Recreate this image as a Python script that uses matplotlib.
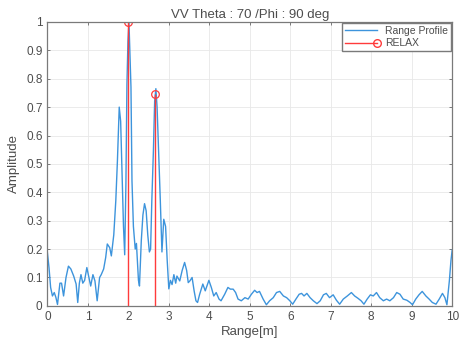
import numpy as np
import matplotlib.pyplot as plt
from matplotlib.legend_handler import HandlerLine2D
from matplotlib.lines import Line2D

plt.rcParams['font.family'] = ['Liberation Sans', 'DejaVu Sans']

# range profile
range_m = [0.0, 0.04, 0.08, 0.125, 0.17, 0.21, 0.25, 0.31, 0.35, 0.40, 0.46, 0.52,
           0.58, 0.65, 0.71, 0.75, 0.79, 0.83, 0.875, 0.92, 0.975, 1.025, 1.07, 1.125,
           1.175, 1.23, 1.29, 1.33, 1.39, 1.44, 1.48, 1.54, 1.58, 1.64, 1.69, 1.73,
           1.775, 1.81, 1.84, 1.88, 1.91, 1.94, 1.965, 1.99, 2.015, 2.04, 2.065, 2.09,
           2.125, 2.17, 2.2, 2.25, 2.275, 2.32, 2.36, 2.4, 2.44, 2.48, 2.52, 2.55,
           2.58, 2.62, 2.65, 2.68, 2.71, 2.75, 2.79, 2.83, 2.875, 2.92, 2.96, 3.0,
           3.04, 3.08, 3.125, 3.17, 3.2, 3.27, 3.33, 3.39, 3.44, 3.48, 3.52, 3.575,
           3.625, 3.67, 3.71, 3.76, 3.84, 3.9, 3.99, 4.05, 4.11, 4.17, 4.24, 4.29,
           4.38, 4.46, 4.52, 4.59, 4.65, 4.71, 4.79, 4.88, 4.96, 5.04, 5.12, 5.18,
           5.24, 5.33, 5.41, 5.49, 5.58, 5.66, 5.74, 5.83, 5.91, 5.99, 6.06, 6.14,
           6.22, 6.28, 6.34, 6.41, 6.49, 6.57, 6.66, 6.74, 6.82, 6.89, 6.97, 7.06,
           7.14, 7.22, 7.31, 7.41, 7.51, 7.59, 7.67, 7.75, 7.82, 7.9, 7.98, 8.05,
           8.13, 8.21, 8.3, 8.38, 8.46, 8.55, 8.63, 8.71, 8.79, 8.88, 8.96, 9.02,
           9.1, 9.18, 9.26, 9.35, 9.43, 9.51, 9.6, 9.68, 9.76, 9.82, 9.87, 9.93,
           9.97, 10.0]
amplitude = [0.188, 0.135, 0.065, 0.035, 0.047, 0.03, 0.005, 0.08, 0.08, 0.035, 0.10, 0.14,
             0.13, 0.105, 0.077, 0.012, 0.08, 0.11, 0.08, 0.09, 0.135, 0.10, 0.07, 0.11,
             0.088, 0.018, 0.10, 0.11, 0.13, 0.17, 0.218, 0.205, 0.176, 0.25, 0.37, 0.51,
             0.70, 0.65, 0.49, 0.28, 0.18, 0.43, 0.78, 0.93, 1.0, 0.89, 0.77, 0.44,
             0.28, 0.2, 0.22, 0.09, 0.07, 0.23, 0.32, 0.36, 0.335, 0.25, 0.19, 0.2,
             0.37, 0.55, 0.72, 0.765, 0.7, 0.535, 0.37, 0.19, 0.305, 0.28, 0.16, 0.06,
             0.09, 0.075, 0.11, 0.08, 0.105, 0.088, 0.125, 0.153, 0.125, 0.082, 0.088, 0.1,
             0.053, 0.018, 0.012, 0.04, 0.077, 0.053, 0.09, 0.065, 0.035, 0.047, 0.024, 0.018,
             0.041, 0.065, 0.059, 0.059, 0.047, 0.024, 0.018, 0.029, 0.024, 0.041, 0.055, 0.047,
             0.051, 0.024, 0.004, 0.018, 0.029, 0.047, 0.051, 0.035, 0.029, 0.018, 0.006, 0.024,
             0.041, 0.044, 0.035, 0.044, 0.029, 0.018, 0.008, 0.018, 0.039, 0.044, 0.029, 0.039,
             0.02, 0.006, 0.024, 0.035, 0.047, 0.035, 0.027, 0.018, 0.006, 0.024, 0.039, 0.035,
             0.047, 0.029, 0.018, 0.024, 0.018, 0.029, 0.047, 0.041, 0.024, 0.02, 0.012, 0.004,
             0.024, 0.039, 0.051, 0.035, 0.024, 0.012, 0.006, 0.024, 0.044, 0.029, 0.004, 0.088,
             0.16, 0.197]

# RELAX estimates
relax_range = [2.0, 2.65]
relax_amp = [1.0, 0.745]

blue = '#3d94dc'
red = '#ff3b3b'
txt = '#4d4d4d'
axc = '#7a7a7a'


class StemHandler(HandlerLine2D):
    # marker at the right end of the legend line, like MATLAB stem
    def create_artists(self, legend, orig_handle, xdescent, ydescent,
                       width, height, fontsize, trans):
        arts = super().create_artists(legend, orig_handle, xdescent, ydescent,
                                      width, height, fontsize, trans)
        line = arts[0]
        line.set_markevery([len(line.get_xdata()) - 1])
        return arts


fig = plt.figure(figsize=(4.6, 3.48), dpi=100)
ax = fig.add_axes([0.103, 0.121, 0.880, 0.816])

ax.plot(range_m, amplitude, color=blue, lw=1.0, label='Range Profile')
ax.vlines(relax_range, 0, relax_amp, color=red, lw=1.0)
ax.plot(relax_range, relax_amp, 'o', mfc='none', mec=red, ms=5.5, mew=0.9)
relax_handle = Line2D([], [], color=red, lw=1.0, marker='o', mfc='none', mec=red, ms=5.5)

ax.set_xlim(0, 10)
ax.set_ylim(0, 1)
ax.set_xticks(np.arange(0, 11, 1))
ax.set_yticks(np.arange(0, 1.01, 0.1))
ax.set_yticklabels(['0', '0.1', '0.2', '0.3', '0.4', '0.5', '0.6', '0.7', '0.8', '0.9', '1'])
ax.grid(True, color='#e8e8e8', lw=0.6)
ax.set_axisbelow(True)
ax.tick_params(direction='in', top=True, right=True, labelsize=8.5, labelcolor=txt,
               color=axc, length=2.5, width=0.7)
for s in ax.spines.values():
    s.set_color(axc)
    s.set_linewidth(0.9)

ax.set_xlabel('Range[m]', fontsize=9.5, color=txt, labelpad=2)
ax.set_ylabel('Amplitude', fontsize=9.5, color=txt, labelpad=4)
ax.set_title('VV Theta : 70 /Phi : 90 deg', fontsize=9.5, color=txt, pad=3)

h, l = ax.get_legend_handles_labels()
leg = ax.legend(h + [relax_handle], l + ['RELAX'], loc='upper right', fontsize=7.5,
                numpoints=1, handler_map={relax_handle: StemHandler()},
                fancybox=False, framealpha=1, edgecolor=axc, borderpad=0.3,
                handlelength=3.0, labelspacing=0.2, borderaxespad=0.1)
for t in leg.get_texts():
    t.set_color(txt)

fig.savefig('out.png', dpi=100)
